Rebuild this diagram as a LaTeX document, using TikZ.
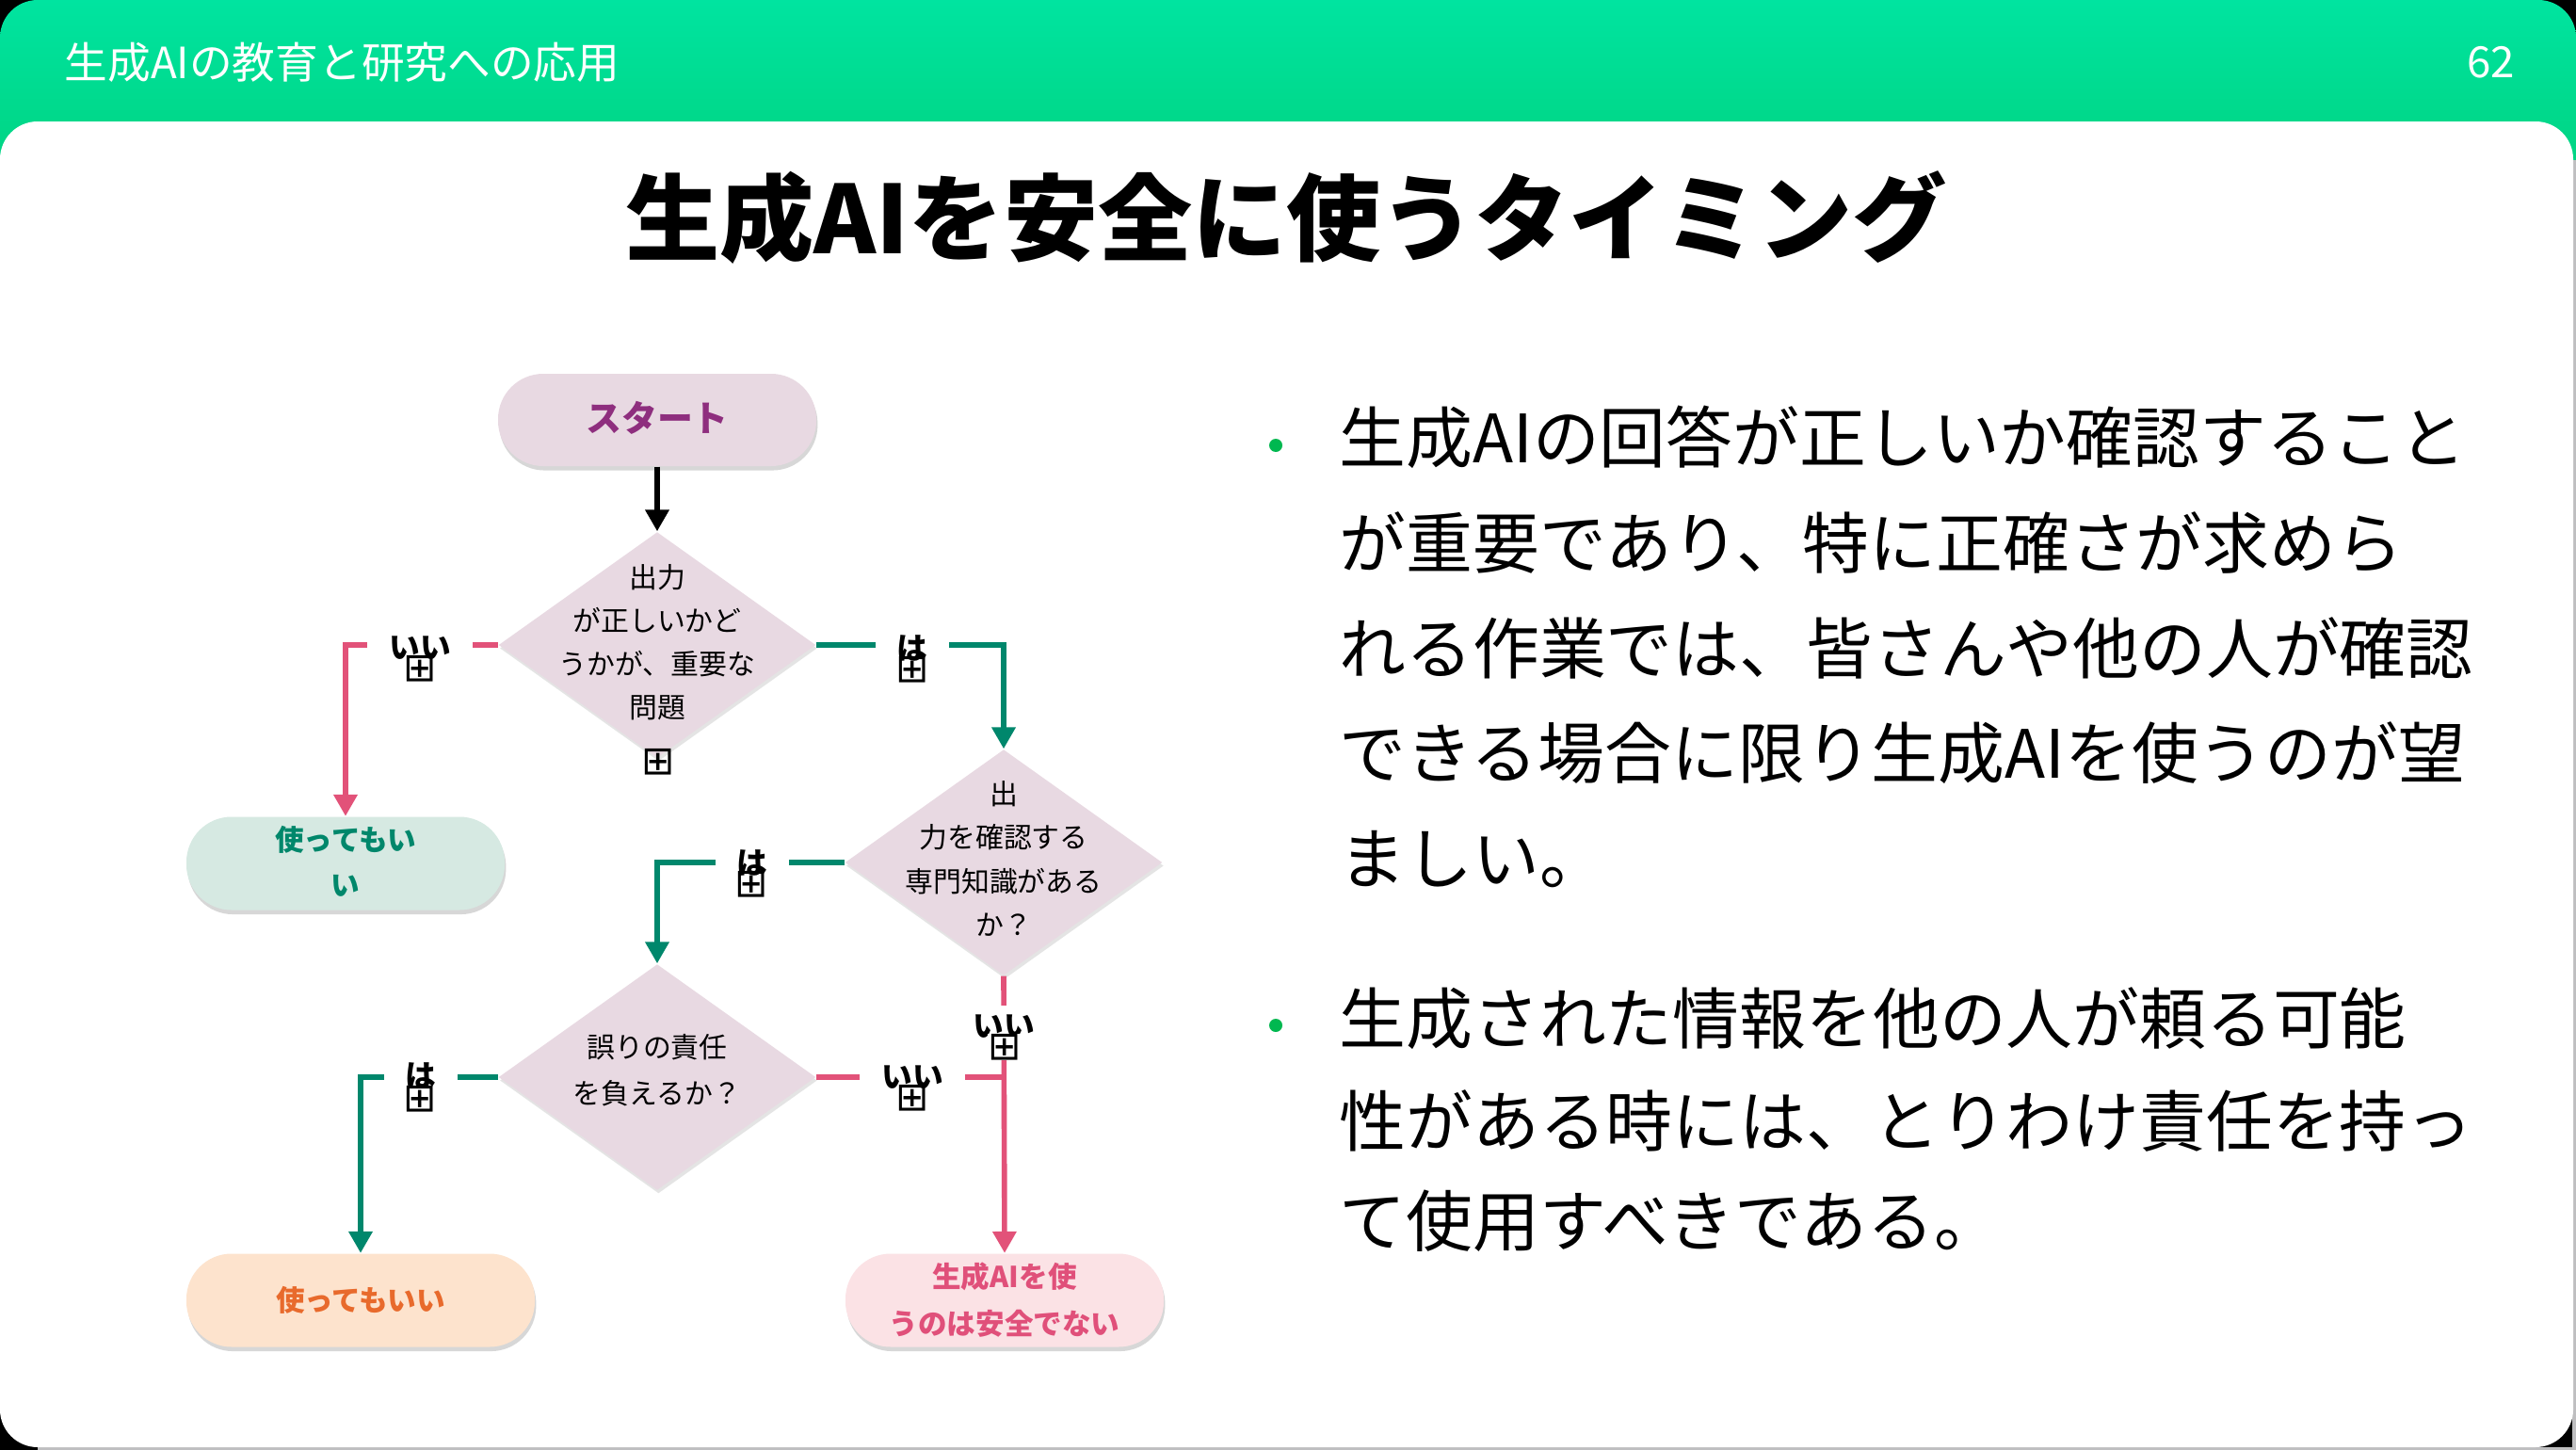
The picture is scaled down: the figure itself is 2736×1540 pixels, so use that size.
\documentclass[tikz,border=0pt]{standalone}
\usepackage{fontspec}
\setmainfont{Noto Sans CJK JP}
\newfontfamily\tofufont{DejaVu Sans}
\usetikzlibrary{shapes.geometric,arrows.meta,shadows,calc}
\definecolor{hdrtop}{RGB}{0,228,160}
\definecolor{hdrbot}{RGB}{0,190,90}
\definecolor{diafill}{RGB}{232,217,226}
\definecolor{startfill}{RGB}{232,217,226}
\definecolor{startpurple}{RGB}{142,46,126}
\definecolor{okfill}{RGB}{214,233,226}
\definecolor{oktext}{RGB}{0,135,107}
\definecolor{orfill}{RGB}{253,227,205}
\definecolor{ortext}{RGB}{232,106,44}
\definecolor{ngfill}{RGB}{251,226,229}
\definecolor{ngtext}{RGB}{224,80,122}
\definecolor{pinkln}{RGB}{226,82,121}
\definecolor{tealln}{RGB}{0,135,108}
\definecolor{bulletgreen}{RGB}{0,184,80}
\definecolor{edgegray}{RGB}{190,190,192}
\tikzset{
  softshadow/.style={drop shadow={shadow xshift=0.4pt, shadow yshift=-1.3pt, opacity=0.22, fill=black!70}},
  pill/.style={rectangle, rounded corners=4.8mm, minimum width=33.8mm, minimum height=9.9mm, inner sep=0, align=center, softshadow},
  dia/.style={diamond, minimum width=33.7mm, minimum height=24mm, inner sep=0, fill=diafill, drop shadow={shadow xshift=0.4pt, shadow yshift=-1pt, opacity=0.15, fill=black!70}},
  dtext/.style={align=center, inner sep=0, font=\fontsize{8.5}{13.1}\selectfont},
  pilltext/.style={font=\fontsize{8.7}{13.4}\selectfont\bfseries},
  conn/.style={line width=1.6pt, -{Triangle[width=6.9pt,length=6.5pt]}},
  lbl/.style={fill=white, inner xsep=2.3mm, inner ysep=0pt, minimum height=4.4mm, font=\fontsize{9.3}{10}\selectfont\bfseries},
  tofu/.style={inner sep=0pt, font=\tofufont\fontsize{12}{12}\selectfont},
  btext/.style={anchor=base west, inner sep=0, font=\fontsize{20.15}{24}\selectfont},
  bdot/.style={circle, fill=bulletgreen, minimum size=1.4mm, inner sep=0}
}
\begin{document}
\begin{tikzpicture}[x=0.1mm,y=-0.1mm]
\useasboundingbox (0,0) rectangle (2736,1540);
% frame
\fill[black] (0,0) rectangle (2736,1540);
\shade[top color=hdrtop, bottom color=hdrbot, rounded corners=4mm] (0,0) rectangle (2736,420);
\fill[edgegray] (2732,170) rectangle (2736,1540);
\fill[edgegray] (40,1537) rectangle (2736,1540);
\fill[white, rounded corners=4mm] (0,129) rectangle (2733,1537);
% header
\node[anchor=west, inner sep=0, text=white, font=\fontsize{13}{15}\selectfont] (hdr) at (68,66) {生成AIの教育と研究への応用};
\node[anchor=east, inner sep=0, text=white, font=\fontsize{13}{15}\selectfont] (pg) at (2672,66) {62};
% title
\node[inner sep=0, font=\fontsize{28.5}{34}\selectfont\bfseries] (title) at (1366,231) {生成AIを安全に使うタイミング};
% flowchart nodes
\node[pill, fill=startfill, text=startpurple, font=\fontsize{10.8}{13}\selectfont\bfseries, minimum height=9.8mm] (start) at (698,446) {\raisebox{2pt}{スタート}};
\node[dia] (d1) at (698,685) {};
\node[dtext] (d1t) at (698,682) {出力\\が正しいかど\\うかが、重要な\\問題};
\node[dia] (d2) at (1066,916) {};
\node[dtext] (d2t) at (1066,912) {出\\力を確認する\\専門知識がある\\か？};
\node[dia] (d3) at (698,1144) {};
\node[dtext, font=\fontsize{8.5}{13.9}\selectfont] (d3t) at (698,1137) {誤りの責任\\を負えるか？};
\node[pill, fill=okfill, text=oktext, pilltext] (ok1) at (367,917) {\raisebox{1.5pt}{使ってもい}\\\raisebox{1.5pt}{い}};
\node[pill, fill=orfill, text=ortext, pilltext, minimum width=37mm] (ok2) at (383,1381) {使ってもいい};
\node[pill, fill=ngfill, text=ngtext, pilltext, font=\fontsize{8.7}{14.2}\selectfont\bfseries] (ng) at (1067,1381) {生成AIを使\\うのは安全でない};
% connectors
\draw[conn, black] (start.south) -- (d1.north);
\draw[conn, pinkln] (d1.west) -| (ok1.north);
\draw[conn, tealln] (d1.east) -| (d2.north);
\draw[conn, tealln] (d2.west) -| (d3.north);
\draw[conn, pinkln] (d2.south) -- (ng.north);
\draw[conn, tealln] (d3.west) -| (ok2.north);
\coordinate (j) at (d2.south |- d3.east);
\draw[line width=1.6pt, pinkln] (d3.east) -- (j);
% labels
\node[lbl] (la) at (446,688) {いい};
\node[lbl] (lb) at (969,689) {は};
\node[lbl] (lc) at (799,917) {は};
\node[lbl] (ld) at (1066,1090) {いい};
\node[lbl] (le) at (969,1144) {いい};
\node[lbl] (lf) at (447,1143) {は};
\node[tofu] (ta) at (446,710) {⊞};
\node[tofu] (tb) at (969,711) {⊞};
\node[tofu] (tc) at (798,939) {⊞};
\node[tofu, fill=white] (td) at (1067,1112) {⊞};
\node[tofu] (te) at (969,1166) {⊞};
\node[tofu] (tf) at (446,1167) {⊞};
\node[tofu] (tg) at (699,809) {⊞};
% bullets
\node[bdot] (b1) at (1355,473) {};
\node[btext] (t11) at (1422,491) {生成AIの回答が正しいか確認すること};
\node[btext] (t12) at (1422,603) {が重要であり、特に正確さが求めら};
\node[btext] (t13) at (1422,715) {れる作業では、皆さんや他の人が確認};
\node[btext] (t14) at (1422,826) {できる場合に限り生成AIを使うのが望};
\node[btext] (t15) at (1422,938) {ましい。};
\node[bdot] (b2) at (1355,1089) {};
\node[btext] (t21) at (1422,1108) {生成された情報を他の人が頼る可能};
\node[btext] (t22) at (1422,1217) {性がある時には、とりわけ責任を持っ};
\node[btext] (t23) at (1422,1323) {て使用すべきである。};
\end{tikzpicture}
\end{document}
